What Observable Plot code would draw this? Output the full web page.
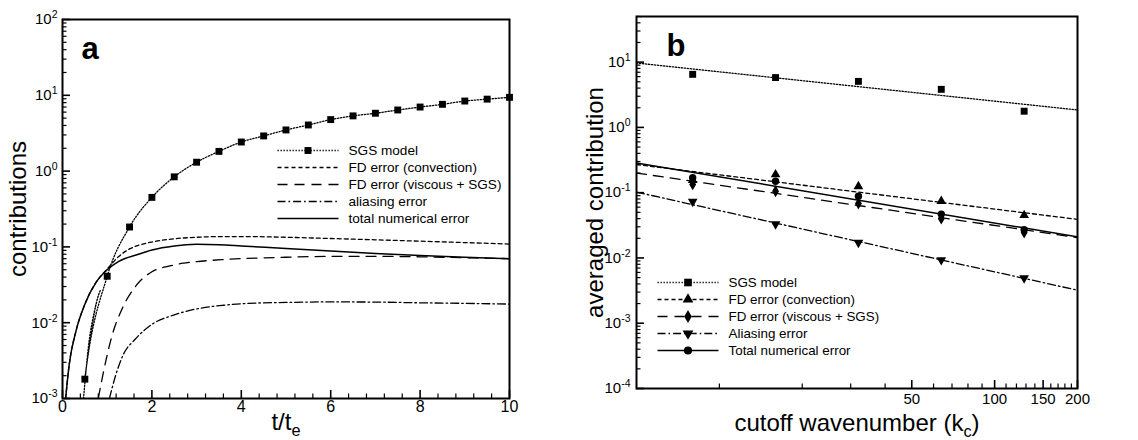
<!DOCTYPE html>
<html>
<head>
<meta charset="utf-8">
<script src="https://cdn.jsdelivr.net/npm/d3@7"></script>
<script src="https://cdn.jsdelivr.net/npm/@observablehq/plot@0.6"></script>
<style>
  body { margin: 0; background: #fff; }
  #wrap { position: relative; width: 1138px; height: 440px; background: #fff; overflow: hidden; }
  .abs { position: absolute; }
</style>
</head>
<body>
<div id="wrap"></div>
<script>
// ---------------- DATA: panel a (contributions vs t/t_e) ----------------
const sgsT = [0.5, 1, 1.5, 2, 2.5, 3, 3.5, 4, 4.5, 5, 5.5, 6, 6.5, 7, 7.5, 8, 8.5, 9, 9.5, 10];
const sgsV = [0.0018, 0.041, 0.183, 0.45, 0.84, 1.31, 1.82, 2.42, 2.91, 3.49, 4.06, 4.78, 5.35, 5.8, 6.4, 7.0, 7.6, 8.4, 8.9, 9.4];
const sgsLeadT = [0.47, 0.6, 0.7, 0.85];
const sgsLeadV = [0.001, 0.006, 0.013, 0.027];

const convT = [0.07, 0.15, 0.3, 0.5, 0.75, 1.0, 1.25, 1.5, 1.75, 2.0, 2.5, 3.0, 3.6, 4, 5, 6, 7, 8, 9, 10];
const convV = [0.001, 0.0028, 0.0077, 0.0175, 0.034, 0.051, 0.074, 0.094, 0.107, 0.116, 0.128, 0.134, 0.137, 0.137, 0.134, 0.129, 0.124, 0.119, 0.114, 0.109];

const viscT = [0.8, 0.9, 1.1, 1.35, 1.65, 2.0, 2.4, 2.7, 3.0, 3.6, 4, 5, 6, 7, 8, 9, 10];
const viscV = [0.001, 0.002, 0.0065, 0.016, 0.031, 0.047, 0.056, 0.061, 0.064, 0.068, 0.070, 0.073, 0.075, 0.075, 0.074, 0.072, 0.070];

const aliasT = [1.05, 1.17, 1.36, 1.62, 2.0, 2.5, 3.0, 3.6, 4, 5, 6, 7, 8, 9, 10];
const aliasV = [0.001, 0.00185, 0.0038, 0.006, 0.0095, 0.0127, 0.0152, 0.017, 0.0178, 0.0185, 0.0188, 0.0187, 0.0183, 0.018, 0.0176];

const totalT = [0.07, 0.15, 0.3, 0.5, 0.75, 1.0, 1.25, 1.7, 2.0, 2.5, 3.0, 3.5, 4, 5, 6, 7, 8, 9, 10];
const totalV = [0.001, 0.0028, 0.0077, 0.0175, 0.034, 0.05, 0.064, 0.08, 0.091, 0.103, 0.108, 0.107, 0.103, 0.095, 0.088, 0.082, 0.077, 0.073, 0.07];

const leftXTicks = [0, 2, 4, 6, 8, 10];
const leftYTicks = [1e-3, 1e-2, 1e-1, 1e0, 1e1, 1e2];
const leftLegend = ["SGS model", "FD error (convection)", "FD error (viscous + SGS)", "aliasing error", "total numerical error"];

// ---------------- DATA: panel b (averaged contribution vs k_c) ----------------
const kc = [8, 16, 32, 64, 128];
const sgsAvg   = [6.5, 5.8, 5.07, 3.83, 1.77];
const convAvg  = [0.155, 0.19, 0.125, 0.074, 0.045];
const viscAvg  = [0.134, 0.105, 0.068, 0.04, 0.0245];
const aliasAvg = [0.073, 0.033, 0.0172, 0.0093, 0.0049];
const totalAvg = [0.17, 0.15, 0.088, 0.047, 0.027];

const fitK = [5, 200];
const sgsFit   = [9.7, 1.85];
const convFit  = [0.27, 0.039];
const viscFit  = [0.2, 0.0205];
const aliasFit = [0.102, 0.0032];
const totalFit = [0.285, 0.021];

const rightXTicks = [50, 100, 150, 200];
const rightYTicks = [1e-4, 1e-3, 1e-2, 1e-1, 1e0, 1e1];
const rightLegend = ["SGS model", "FD error (convection)", "FD error (viscous + SGS)", "Aliasing error", "Total numerical error"];

// ---------------- helpers ----------------
const FONT = '"Liberation Sans", Arial, Helvetica, sans-serif';
const rows = (xs, ys) => xs.map((x, i) => ({x, y: ys[i]}));
const DASH = {sgs: "1.3,1.7", conv: "4,3", visc: "10,7", alias: "8,3,1.6,3", total: null};
const triangleDown = {
  draw(ctx, size) {
    const y = -Math.sqrt(size / (Math.sqrt(3) * 3));
    const s3 = Math.sqrt(3);
    ctx.moveTo(0, -2 * y);
    ctx.lineTo(-s3 * y, y);
    ctx.lineTo(s3 * y, y);
    ctx.closePath();
  }
};
function logMinors(lo, hi) {
  const out = [];
  for (let e = Math.floor(Math.log10(lo)); e <= Math.ceil(Math.log10(hi)); e++) {
    for (let k = 2; k <= 9; k++) {
      const v = k * Math.pow(10, e);
      if (v > lo && v <= hi * 1.0001) out.push(v);
    }
  }
  return out;
}
const pow10Label = d => "10^" + Math.round(Math.log10(d));

function fixText(svg) {
  d3.select(svg).selectAll("text").each(function () {
    if (this.querySelector("tspan")) return;
    const t = this.textContent;
    const sel = d3.select(this);
    let m = t.match(/^10\^(-?\d+)$/);
    if (m) {
      sel.text("10");
      sel.append("tspan").attr("dy", "-6").attr("font-size", "10.5px").text(m[1]);
      return;
    }
    m = t.match(/^(.*)_(\w)(.*)$/);
    if (m) {
      const fs = 24;
      sel.text(m[1]);
      sel.append("tspan").attr("dy", fs * 0.26).attr("font-size", (fs * 0.68) + "px").text(m[2]);
      if (m[3]) sel.append("tspan").attr("dy", -fs * 0.26).attr("font-size", fs + "px").text(m[3]);
    }
  });
}

function legendPlot(entries, {width, height, xRange, yRange, fontSize}) {
  const marks = [];
  for (const e of entries) {
    marks.push(Plot.link([e], {x1: () => 0, x2: () => 1, y1: d => d.label, y2: d => d.label,
      stroke: "black", strokeWidth: e.sw, strokeDasharray: e.dash}));
    if (e.symbol) marks.push(Plot.dot([e], {x: () => 0.5, y: d => d.label, symbol: e.symbol, r: e.r, fill: "black", stroke: "none"}));
  }
  marks.push(Plot.text(entries, {x: () => 1, y: d => d.label, text: d => d.label, dx: 10, textAnchor: "start", fontSize}));
  return Plot.plot({
    width, height, margin: 0,
    style: {fontFamily: FONT, color: "black", background: "transparent"},
    x: {domain: [0, 1], range: xRange, axis: null},
    y: {type: "point", domain: entries.map(e => e.label), range: yRange, padding: 0, axis: null},
    marks
  });
}

const wrap = document.getElementById("wrap");
function place(node, left, top) {
  node.classList.add("abs");
  node.style.left = left + "px";
  node.style.top = top + "px";
  wrap.appendChild(node);
}

// ---------------- panel a ----------------
{
  const W = 570, H = 440, mL = 62, mR = 61, mT = 19, mB = 42;
  const fw = W - mL - mR, fh = H - mT - mB;
  const xMinor = d3.range(0, 10.001, 0.4).filter(v => Math.abs(v / 2 - Math.round(v / 2)) > 1e-6);
  const yMinor = logMinors(1e-3, 1e2);
  const sgsLine = rows(sgsLeadT.concat(sgsT), sgsLeadV.concat(sgsV));
  const lw = 1.3;
  const plot = Plot.plot({
    width: W, height: H, marginLeft: mL, marginRight: mR, marginTop: mT, marginBottom: mB,
    style: {fontFamily: FONT, fontSize: "15px", color: "black", background: "white", overflow: "visible"},
    x: {domain: [0, 10], axis: null},
    y: {type: "log", domain: [1e-3, 1e2], axis: null},
    marks: [
      Plot.tickX(xMinor, {x: d => d, insetTop: fh - 4.5, strokeWidth: 1.2}),
      Plot.tickX(leftXTicks, {x: d => d, insetTop: fh - 8, strokeWidth: 1.6}),
      Plot.tickY(yMinor, {y: d => d, insetRight: fw - 4.5, strokeWidth: 1.2}),
      Plot.tickY(leftYTicks, {y: d => d, insetRight: fw - 8, strokeWidth: 1.6}),
      Plot.text(leftXTicks, {x: d => d, text: d => String(d), frameAnchor: "bottom", lineAnchor: "top", dy: 2, fontSize: 16}),
      Plot.text(leftYTicks, {y: d => d, text: pow10Label, frameAnchor: "left", textAnchor: "end", lineAnchor: "middle", dx: -5, fontSize: 15}),
      Plot.line(rows(aliasT, aliasV), {x: "x", y: "y", curve: "monotone-x", stroke: "black", strokeWidth: lw, strokeDasharray: DASH.alias, clip: true}),
      Plot.line(rows(viscT, viscV), {x: "x", y: "y", curve: "monotone-x", stroke: "black", strokeWidth: lw, strokeDasharray: DASH.visc, clip: true}),
      Plot.line(rows(convT, convV), {x: "x", y: "y", curve: "monotone-x", stroke: "black", strokeWidth: lw, strokeDasharray: DASH.conv, clip: true}),
      Plot.line(rows(totalT, totalV), {x: "x", y: "y", curve: "monotone-x", stroke: "black", strokeWidth: 1.5, clip: true}),
      Plot.line(sgsLine, {x: "x", y: "y", curve: "monotone-x", stroke: "black", strokeWidth: lw, strokeDasharray: DASH.sgs, clip: true}),
      Plot.dot(rows(sgsT, sgsV), {x: "x", y: "y", symbol: "square", r: 3.9, fill: "black", stroke: "none"}),
      Plot.frame({stroke: "black", strokeWidth: 2}),
      Plot.text(["contributions"], {text: d => d, frameAnchor: "left", textAnchor: "middle", lineAnchor: "middle", dx: -44, rotate: -90, fontSize: 24}),
      Plot.text(["t/t_e"], {text: d => d, frameAnchor: "bottom", textAnchor: "middle", lineAnchor: "middle", dy: 24, fontSize: 24}),
      Plot.text(["a"], {text: d => d, frameAnchor: "top-left", textAnchor: "start", lineAnchor: "top", dx: 19, dy: 17, fontSize: 31, fontWeight: "bold"})
    ]
  });
  fixText(plot);
  place(plot, 0, 0);

  const entries = [
    {label: leftLegend[0], dash: DASH.sgs, sw: lw, symbol: "square", r: 3.9},
    {label: leftLegend[1], dash: DASH.conv, sw: lw},
    {label: leftLegend[2], dash: DASH.visc, sw: lw},
    {label: leftLegend[3], dash: DASH.alias, sw: lw},
    {label: leftLegend[4], dash: null, sw: 1.5}
  ];
  const leg = legendPlot(entries, {width: 250, height: 100, xRange: [7, 68], yRange: [9, 80], fontSize: 13.6});
  place(leg, 270, 139);
}

// ---------------- panel b ----------------
{
  const X0 = 570;
  const W = 568, H = 440, mL = 66, mR = 61, mT = 16, mB = 52;
  const fw = W - mL - mR, fh = H - mT - mB;
  const xMinor = d3.range(10, 200, 10).filter(v => v % 50 !== 0);
  const yMinor = logMinors(1e-4, 50);
  const lw = 1.3;
  const series = [
    {fit: sgsFit, pts: sgsAvg, dash: DASH.sgs, symbol: "square", r: 3.9},
    {fit: convFit, pts: convAvg, dash: DASH.conv, symbol: "triangle", r: 3.6},
    {fit: viscFit, pts: viscAvg, dash: DASH.visc, symbol: "diamond", r: 3.6},
    {fit: aliasFit, pts: aliasAvg, dash: DASH.alias, symbol: triangleDown, r: 3.6},
    {fit: totalFit, pts: totalAvg, dash: null, symbol: "circle", r: 3.7}
  ];
  const marks = [
    Plot.tickX(xMinor, {x: d => d, insetTop: fh - 4.5, strokeWidth: 1.2}),
    Plot.tickX(rightXTicks, {x: d => d, insetTop: fh - 8, strokeWidth: 1.6}),
    Plot.tickY(yMinor, {y: d => d, insetRight: fw - 4.5, strokeWidth: 1.2}),
    Plot.tickY(rightYTicks, {y: d => d, insetRight: fw - 8, strokeWidth: 1.6}),
    Plot.text(rightXTicks, {x: d => d, text: d => String(d), frameAnchor: "bottom", lineAnchor: "top", dy: 5, fontSize: 15}),
    Plot.text(rightYTicks, {y: d => d, text: pow10Label, frameAnchor: "left", textAnchor: "end", lineAnchor: "middle", dx: -6, fontSize: 15})
  ];
  for (const s of series) {
    marks.push(Plot.line(rows(fitK, s.fit), {x: "x", y: "y", stroke: "black", strokeWidth: s.dash ? lw : 1.5, strokeDasharray: s.dash, clip: true}));
  }
  for (const s of series) {
    marks.push(Plot.dot(rows(kc, s.pts), {x: "x", y: "y", symbol: s.symbol, r: s.r, fill: "black", stroke: "none"}));
  }
  marks.push(
    Plot.frame({stroke: "black", strokeWidth: 2}),
    Plot.text(["averaged contribution"], {text: d => d, frameAnchor: "left", textAnchor: "middle", lineAnchor: "middle", dx: -41, rotate: -90, fontSize: 24}),
    Plot.text(["cutoff wavenumber (k_c)"], {text: d => d, frameAnchor: "bottom", textAnchor: "middle", lineAnchor: "middle", dy: 35, fontSize: 24}),
    Plot.text(["b"], {text: d => d, frameAnchor: "top-left", textAnchor: "start", lineAnchor: "top", dx: 30, dy: 17, fontSize: 31, fontWeight: "bold"})
  );
  const plot = Plot.plot({
    width: W, height: H, marginLeft: mL, marginRight: mR, marginTop: mT, marginBottom: mB,
    style: {fontFamily: FONT, fontSize: "15px", color: "black", background: "white", overflow: "visible"},
    x: {type: "log", domain: [5, 200], axis: null},
    y: {type: "log", domain: [1e-4, 50], axis: null},
    marks
  });
  fixText(plot);
  place(plot, X0, 0);

  const entries = rightLegend.map((label, i) => ({
    label, dash: series[i].dash, sw: series[i].dash ? lw : 1.5, symbol: series[i].symbol, r: series[i].r + 0.4
  }));
  const leg = legendPlot(entries, {width: 250, height: 95, xRange: [7, 68], yRange: [9, 79], fontSize: 13.4});
  place(leg, 650, 272);
}
</script>
</body>
</html>
